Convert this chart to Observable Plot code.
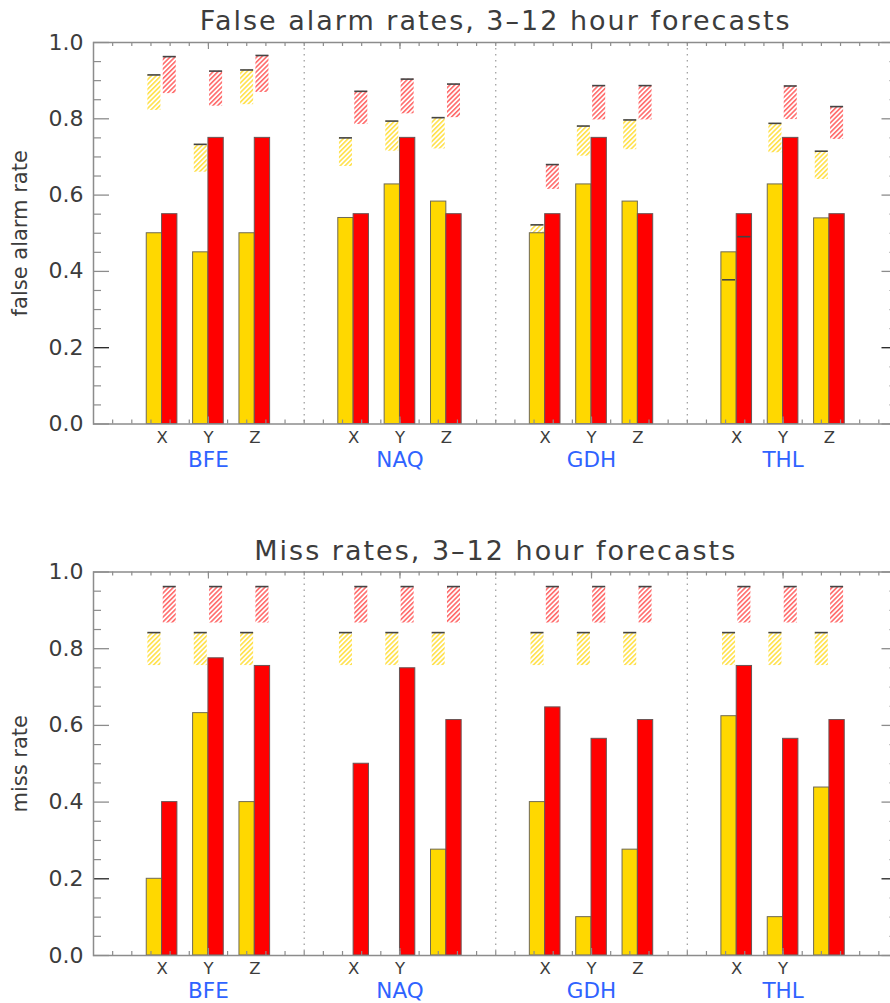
<!DOCTYPE html>
<html><head><meta charset="utf-8">
<script src="https://cdn.jsdelivr.net/npm/d3@7"></script>
<script src="https://cdn.jsdelivr.net/npm/@observablehq/plot@0.6"></script>
<style>
body{margin:0;background:#fff;}
#chart{width:890px;}
#chart svg{display:block;overflow:visible;}
</style></head><body><div id="chart"></div>
<script>
// ---------- data ----------
const groups = ["BFE","NAQ","GDH","THL"];
const subs = ["X","Y","Z"];
const faTickLabels   = ["X","Y","Z","X","Y","Z","X","Y","Z","X","Y","Z"];
const missTickLabels = ["X","Y","Z","X","Y","","X","Y","Z","X","Y",""];
const yMajor = [0,0.2,0.4,0.6,0.8,1.0];
const yMinor = [0.05,0.1,0.15,0.25,0.3,0.35,0.45,0.5,0.55,0.65,0.7,0.75,0.85,0.9,0.95];

// False alarm rates (order: BFE X,Y,Z, NAQ X,Y,Z, GDH X,Y,Z, THL X,Y,Z)
const faYellow = [0.50,0.45,0.50, 0.54,0.628,0.583, 0.50,0.628,0.583, 0.45,0.628,0.539];
const faRed    = [0.55,0.75,0.75, 0.55,0.75,0.55,  0.55,0.75,0.55,  0.55,0.75,0.55];
const faYellowHatchTop = [0.915,0.733,0.928, 0.750,0.794,0.803, 0.522,0.781,0.797, 0.378,0.788,0.715];
const faYellowHatchBot = [0.822,0.660,0.837, 0.675,0.715,0.721, 0.440,0.702,0.719, 0.300,0.711,0.641];
const faRedHatchTop    = [0.963,0.925,0.966, 0.872,0.904,0.891, 0.680,0.887,0.887, 0.491,0.886,0.832];
const faRedHatchBot    = [0.866,0.833,0.869, 0.785,0.813,0.803, 0.615,0.797,0.797, 0.410,0.798,0.746];

// Miss rates
const missYellow = [0.20,0.632,0.40, 0,0,0.276, 0.40,0.10,0.276, 0.624,0.10,0.438];
const missRed    = [0.40,0.775,0.755, 0.50,0.749,0.614, 0.647,0.565,0.614, 0.755,0.565,0.614];
const missYellowHatchTop = [0.842,0.842,0.842, 0.842,0.842,0.842, 0.842,0.842,0.842, 0.842,0.842,0.842];
const missYellowHatchBot = [0.756,0.756,0.756, 0.756,0.756,0.756, 0.756,0.756,0.756, 0.756,0.756,0.756];
const missRedHatchTop    = [0.962,0.962,0.962, 0.962,0.962,0.962, 0.962,0.962,0.962, 0.962,0.962,0.962];
const missRedHatchBot    = [0.867,0.867,0.867, 0.867,0.867,0.867, 0.867,0.867,0.867, 0.867,0.867,0.867];

// ---------- layout helpers ----------
const groupSpan = 10, groupCenter0 = 6, subStep = 2.42, barW = 0.8, hatchHalf = 0.34;
const xMinor = d3.range(1, 42);
const groupCenters = groups.map((g, i) => groupCenter0 + groupSpan * i);
const separators = [1, 2, 3].map(i => 1 + groupSpan * i);

function rowsFor(yellow, red, yT, yB, rT, rB, labels) {
  const rows = [];
  groups.forEach((g, gi) => subs.forEach((s, si) => {
    const i = gi * 3 + si;
    rows.push({group: g, sub: s, label: labels[i],
      c: groupCenters[gi] + (si - 1) * subStep,
      yellow: yellow[i], red: red[i],
      yTop: yT[i], yBot: yB[i], rTop: rT[i], rBot: rB[i]});
  }));
  return rows;
}

const FONT = "DejaVu Sans, Liberation Sans, sans-serif";
const TXT = "#3c3c3c";
const AX = "#8c8c8c";

function panel({rows, title, ylabel, height, marginTop, marginBottom, titleDy}) {
  const W = 890, ML = 93, MR = -7.5;
  const frameW = W - ML - MR;
  const frameH = height - marginTop - marginBottom;
  const bars = [
    // hatched boxes
    Plot.rect(rows, {x1: d => d.c - barW/2 - hatchHalf, x2: d => d.c - barW/2 + hatchHalf, y1: "yBot", y2: "yTop", fill: "url(#hatchY)"}),
    Plot.rect(rows, {x1: d => d.c + barW/2 - hatchHalf, x2: d => d.c + barW/2 + hatchHalf, y1: "rBot", y2: "rTop", fill: "url(#hatchR)"}),
    // solid bars
    Plot.rect(rows.filter(d => d.yellow > 0), {x1: d => d.c - barW, x2: "c", y1: 0, y2: "yellow", fill: "#FFD800", stroke: "#6f6a55", strokeWidth: 1}),
    Plot.rect(rows.filter(d => d.red > 0), {x1: "c", x2: d => d.c + barW, y1: 0, y2: "red", fill: "#FF0000", stroke: "#6a5555", strokeWidth: 1}),
    // caps
    Plot.ruleY(rows, {y: "yTop", x1: d => d.c - barW/2 - hatchHalf, x2: d => d.c - barW/2 + hatchHalf, stroke: "#444", strokeWidth: 1.6}),
    Plot.ruleY(rows, {y: "rTop", x1: d => d.c + barW/2 - hatchHalf, x2: d => d.c + barW/2 + hatchHalf, stroke: "#444", strokeWidth: 1.6}),
  ];
  const axes = [
    Plot.ruleX(separators, {x: d => d, stroke: "#9a9a9a", strokeWidth: 1.2, strokeDasharray: "1.5,4.5"}),
    // x ticks (bottom & top)
    Plot.tickX(xMinor, {x: d => d, insetTop: frameH - 4, stroke: AX, strokeWidth: 1.2}),
    Plot.tickX(xMinor, {x: d => d, insetBottom: frameH - 4, stroke: AX, strokeWidth: 1.2}),
    Plot.tickX(groupCenters, {x: d => d, insetTop: frameH - 7, stroke: AX, strokeWidth: 1.2}),
    Plot.tickX(groupCenters, {x: d => d, insetBottom: frameH - 7, stroke: AX, strokeWidth: 1.2}),
    // y ticks (left & right)
    Plot.tickY(yMajor, {y: d => d, insetRight: frameW - 16, stroke: d => d === 0.2 ? "#222" : AX, strokeWidth: 1.3}),
    Plot.tickY(yMinor, {y: d => d, insetRight: frameW - 8, stroke: AX, strokeWidth: 1.2}),
    Plot.tickY(yMajor, {y: d => d, insetLeft: frameW - 16, stroke: d => d === 0.2 ? "#222" : AX, strokeWidth: 1.3}),
    Plot.tickY(yMinor, {y: d => d, insetLeft: frameW - 8, stroke: AX, strokeWidth: 1.2}),
    Plot.frame({stroke: AX, strokeWidth: 1.5}),
    // y tick labels
    Plot.text(yMajor, {y: d => d, text: d => d.toFixed(1), frameAnchor: "left", dx: -10, textAnchor: "end", fontSize: 22, fill: TXT}),
    // y label
    Plot.text([ylabel], {frameAnchor: "left", dx: -73, rotate: -90, fontSize: 21, fill: TXT, textAnchor: "middle", lineAnchor: "middle"}),
    // x category labels
    Plot.text(rows, {x: "c", text: "label", frameAnchor: "bottom", dy: 13.5, lineAnchor: "middle", fontSize: 16.5, fill: TXT}),
    Plot.text(groups, {x: (d, i) => groupCenters[i], text: d => d, frameAnchor: "bottom", dy: 36, lineAnchor: "middle", fontSize: 21.5, fill: "#2f63ff"}),
    // title
    Plot.text([title], {frameAnchor: "top", dy: titleDy, lineAnchor: "bottom", fontSize: 27, fill: TXT})
  ];
  const svg = Plot.plot({
    width: W, height, marginLeft: ML, marginRight: MR, marginTop, marginBottom,
    style: {fontFamily: FONT, background: "white", overflow: "visible"},
    x: {type: "linear", domain: [0, 42], range: [ML, W - MR], axis: null},
    y: {type: "linear", domain: [0, 1], range: [height - marginBottom, marginTop], axis: null},
    marks: [...bars, ...axes]
  });
  const defs = `<defs>
    <pattern id="hatchY" patternUnits="userSpaceOnUse" width="3.4" height="3.4" patternTransform="rotate(45)">
      <rect width="3.4" height="3.4" fill="white"/>
      <line x1="0.8" y1="0" x2="0.8" y2="3.4" stroke="#ffe14a" stroke-width="1.6"/>
    </pattern>
    <pattern id="hatchR" patternUnits="userSpaceOnUse" width="3.4" height="3.4" patternTransform="rotate(45)">
      <rect width="3.4" height="3.4" fill="white"/>
      <line x1="0.8" y1="0" x2="0.8" y2="3.4" stroke="#ff6a6a" stroke-width="1.6"/>
    </pattern></defs>`;
  svg.insertAdjacentHTML("afterbegin", defs);
  d3.select(svg).selectAll("text").filter(function() { return this.textContent === title; })
    .style("letter-spacing", "2px");
  return svg;
}

const chart = document.getElementById("chart");
chart.appendChild(panel({
  rows: rowsFor(faYellow, faRed, faYellowHatchTop, faYellowHatchBot, faRedHatchTop, faRedHatchBot, faTickLabels),
  title: "False alarm rates, 3\u201312 hour forecasts", ylabel: "false alarm rate",
  height: 500, marginTop: 42, marginBottom: 76.5, titleDy: -13
}));
chart.appendChild(panel({
  rows: rowsFor(missYellow, missRed, missYellowHatchTop, missYellowHatchBot, missRedHatchTop, missRedHatchBot, missTickLabels),
  title: "Miss rates, 3\u201312 hour forecasts", ylabel: "miss rate",
  height: 503, marginTop: 71.5, marginBottom: 48, titleDy: -12.5
}));
</script></body></html>
